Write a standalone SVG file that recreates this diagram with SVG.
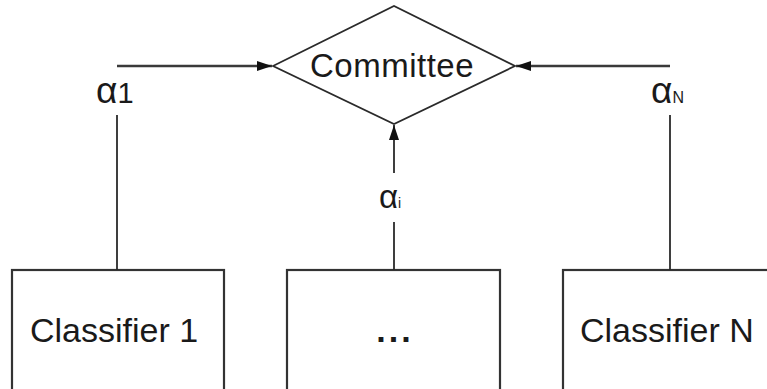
<svg xmlns="http://www.w3.org/2000/svg" width="767" height="389" viewBox="0 0 767 389">
<defs>
<style>
.ln{stroke:#2a2a2a;stroke-width:1.8;fill:none}
.hl{stroke:#3a3a3a;stroke-width:2.6;fill:none}
.box{stroke:#333;stroke-width:2.2;fill:#fff}
.t{font-family:"Liberation Sans",Arial,sans-serif;fill:#1a1a1a}
</style>
<marker id="ah" viewBox="0 0 15 10" refX="15" refY="5" markerWidth="15" markerHeight="10" markerUnits="userSpaceOnUse" orient="auto">
<path d="M0,0 L15,5 L0,10 Z" fill="#111"/>
</marker>
</defs>
<rect width="767" height="389" fill="#fff"/>
<g id="committee">
<polygon class="ln" points="273,66 394,6 515,66 394,124" fill="#fff"/>
<text class="t" x="392" y="77" font-size="33" text-anchor="middle" letter-spacing="0.5">Committee</text>
</g>
<g id="classifier1">
<rect class="box" x="12" y="270" width="212" height="130"/>
<text class="t" x="114" y="342" font-size="34" text-anchor="middle">Classifier 1</text>
</g>
<g id="classifierMid">
<rect class="box" x="287" y="270" width="213" height="130"/>
<text class="t" x="395" y="342" font-size="34" font-weight="bold" text-anchor="middle" letter-spacing="3">...</text>
</g>
<g id="classifierN">
<rect class="box" x="563" y="270" width="215" height="130"/>
<text class="t" x="580" y="342" font-size="34">Classifier N</text>
</g>
<g id="connectors">
<line class="ln" x1="117" y1="270" x2="117" y2="115"/>
<line class="hl" x1="117" y1="66" x2="272" y2="66" marker-end="url(#ah)"/>
<text class="t" x="96" y="103" font-size="37">α<tspan font-size="29">1</tspan></text>
<line class="ln" x1="394" y1="270" x2="394" y2="222"/>
<line class="ln" x1="394" y1="173" x2="394" y2="125" marker-end="url(#ah)"/>
<text class="t" x="379" y="208" font-size="33">α<tspan font-size="14">i</tspan></text>
<line class="ln" x1="670" y1="270" x2="670" y2="115"/>
<line class="hl" x1="670" y1="66" x2="516" y2="66" marker-end="url(#ah)"/>
<text class="t" x="651" y="103" font-size="37">α<tspan font-size="16">N</tspan></text>
</g>
</svg>
